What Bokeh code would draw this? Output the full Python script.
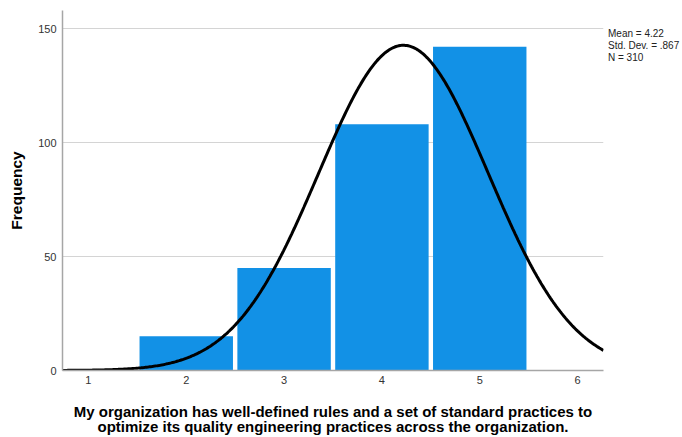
import numpy as np
from bokeh.plotting import figure
from bokeh.models import FixedTicker, Range1d, Legend, LegendItem
from bokeh.embed import file_html
from bokeh.resources import INLINE

categories = [2, 3, 4, 5]
frequencies = [15, 45, 108, 142]
mean = 4.22
std_dev = 0.867
n_total = 310
x_ticks = [1, 2, 3, 4, 5, 6]
y_ticks = [0, 50, 100, 150]
stats = ["Mean = 4.22", "Std. Dev. = .867", "N = 310"]
title_lines = ["My organization has well-defined rules and a set of standard practices to",
               "optimize its quality engineering practices across the organization."]

FONT = "Liberation Sans"

p = figure(frame_width=541, frame_height=360, output_backend="svg", toolbar_location=None,
           x_range=Range1d(0.735, 6.265), y_range=Range1d(0, 157.9),
           min_border_left=62, min_border_right=79, min_border_top=10, min_border_bottom=66)
p.outline_line_color = None
p.background_fill_color = "white"

p.vbar(x=categories, top=frequencies, width=0.955, bottom=0,
       fill_color="#1291E6", line_color=None)

xs = np.linspace(0.735, 6.265, 400)
ys = n_total * np.exp(-0.5 * ((xs - mean) / std_dev) ** 2) / (std_dev * np.sqrt(2 * np.pi))
p.line(xs, ys, line_color="black", line_width=3)

p.xaxis.ticker = FixedTicker(ticks=x_ticks)
p.yaxis.ticker = FixedTicker(ticks=y_ticks)
for ax in (p.xaxis[0], p.yaxis[0]):
    ax.major_tick_line_color = None
    ax.minor_tick_line_color = None
    ax.major_tick_out = 0
    ax.major_tick_in = 0
    ax.axis_line_color = "#a6a6a6"
    ax.axis_line_width = 1.5
    ax.major_label_text_font = FONT
    ax.major_label_text_font_size = "11px"
    ax.major_label_text_color = "#333333"
p.xaxis.major_label_standoff = 5
p.yaxis.major_label_standoff = 6

p.yaxis.axis_label = "Frequency"
p.yaxis.axis_label_text_font = FONT
p.yaxis.axis_label_text_font_size = "15.5px"
p.yaxis.axis_label_text_font_style = "bold"
p.yaxis.axis_label_text_color = "black"
p.yaxis.axis_label_standoff = 10

p.xaxis.axis_label = "\n".join(title_lines)
p.xaxis.axis_label_text_font = FONT
p.xaxis.axis_label_text_font_size = "15px"
p.xaxis.axis_label_text_font_style = "bold"
p.xaxis.axis_label_text_color = "black"
p.xaxis.axis_label_text_line_height = 0.9
p.xaxis.axis_label_standoff = 16

p.xgrid.grid_line_color = None
p.ygrid.grid_line_color = "#d4d4d4"
p.ygrid.grid_line_width = 1

# first (empty) row only pushes the statistics block down to its place
legend_rows = [""] + stats
legend = Legend(items=[LegendItem(label=s, renderers=[]) for s in legend_rows],
                location="top_left", orientation="vertical",
                glyph_width=0, glyph_height=12, label_height=12, label_standoff=0,
                spacing=0, padding=0, margin=5,
                label_text_font=FONT, label_text_font_size="10px", label_text_color="#222222",
                border_line_color=None, background_fill_alpha=0)
p.add_layout(legend, "right")

open("out.html", "w").write(file_html(p, INLINE))
